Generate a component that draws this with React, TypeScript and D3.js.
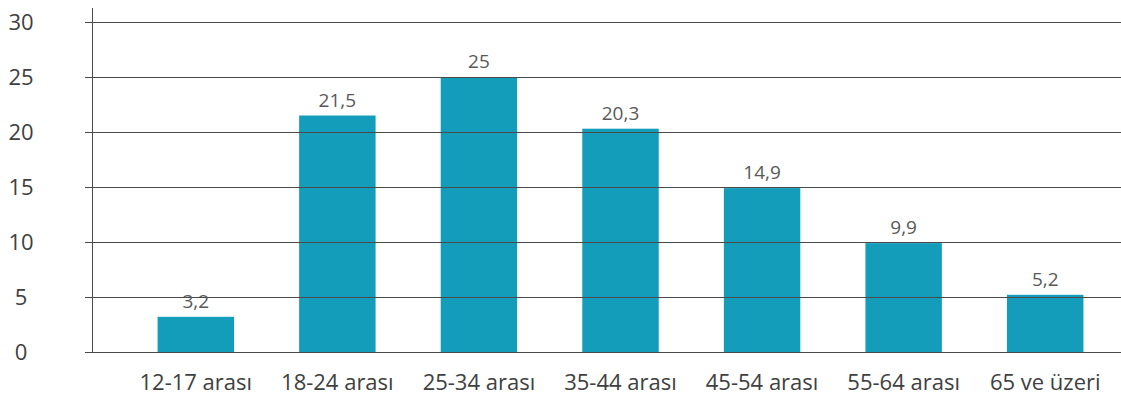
import { useEffect, useRef } from 'react';
import * as d3 from 'd3';

const categories = ['12-17 arası', '18-24 arası', '25-34 arası', '35-44 arası', '45-54 arası', '55-64 arası', '65 ve üzeri'];
const values = [3.2, 21.5, 25, 20.3, 14.9, 9.9, 5.2];
const valueLabels = ['3,2', '21,5', '25', '20,3', '14,9', '9,9', '5,2'];
const yTicks = [0, 5, 10, 15, 20, 25, 30];

const W = 1121;
const H = 399;

const App = () => {
  const svgRef = useRef<SVGSVGElement>(null);

  useEffect(() => {
    if (!svgRef.current) return;
    const svg = d3.select(svgRef.current);
    svg.selectAll('*').remove();

    const font = '"Open Sans", sans-serif';

    const x = d3.scaleBand<string>().domain(categories).range([125, 1116]).paddingInner(0.46).paddingOuter(0.23);
    const y = d3.scaleLinear().domain([0, 30]).range([352, 22]);

    // bars
    svg
      .append('g')
      .selectAll('rect')
      .data(values)
      .enter()
      .append('rect')
      .attr('x', (_, i) => x(categories[i]) as number)
      .attr('y', d => y(d))
      .attr('width', x.bandwidth())
      .attr('height', d => y(0) - y(d))
      .attr('fill', '#149dba');

    // gridlines (drawn over bars)
    svg
      .append('g')
      .selectAll('line')
      .data(yTicks)
      .enter()
      .append('line')
      .attr('x1', 85)
      .attr('x2', W)
      .attr('y1', d => Math.round(y(d)) + 0.5)
      .attr('y2', d => Math.round(y(d)) + 0.5)
      .attr('stroke', '#4a4a4a')
      .attr('stroke-width', 1);

    // y axis line
    svg
      .append('line')
      .attr('x1', 92.5)
      .attr('x2', 92.5)
      .attr('y1', 8)
      .attr('y2', y(0))
      .attr('stroke', '#4a4a4a');

    // y tick labels
    svg
      .append('g')
      .selectAll('text')
      .data(yTicks)
      .enter()
      .append('text')
      .attr('x', 21)
      .attr('y', d => y(d) + 8)
      .attr('text-anchor', 'middle')
      .attr('font-family', font)
      .attr('font-size', 22)
      .attr('fill', '#404040')
      .text(d => d);

    // x labels
    svg
      .append('g')
      .selectAll('text')
      .data(categories)
      .enter()
      .append('text')
      .attr('x', d => (x(d) as number) + x.bandwidth() / 2)
      .attr('y', 390)
      .attr('text-anchor', 'middle')
      .attr('font-family', font)
      .attr('font-size', 22)
      .attr('fill', '#404040')
      .text(d => d);

    // value labels
    svg
      .append('g')
      .selectAll('text')
      .data(values)
      .enter()
      .append('text')
      .attr('x', (_, i) => (x(categories[i]) as number) + x.bandwidth() / 2)
      .attr('y', d => y(d) - 9)
      .attr('text-anchor', 'middle')
      .attr('font-family', font)
      .attr('font-size', 19)
      .attr('fill', '#595959')
      .text((_, i) => valueLabels[i]);
  }, []);

  return <svg ref={svgRef} width={W} height={H} style={{ display: 'block', position: 'absolute', left: 0, top: 0 }} />;
};

export default App;
